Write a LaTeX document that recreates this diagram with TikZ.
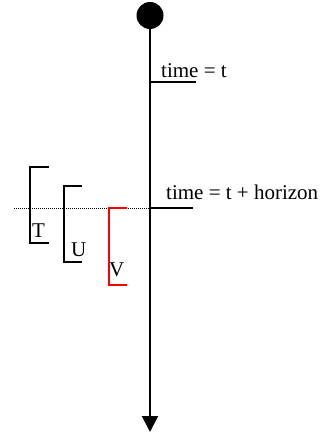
\documentclass[tikz,border=0pt]{standalone}
\usepackage{fontspec}
\setmainfont{Liberation Serif}
\usetikzlibrary{arrows.meta}
\begin{document}
\begin{tikzpicture}[x=1pt, y=-1pt,
		axis/.style={line width=2pt},
		tick/.style={line width=1.8pt},
		bracket/.style={line width=1.8pt},
		lbl/.style={font=\fontsize{21}{25}\selectfont, inner sep=0pt, anchor=base west}]
		\useasboundingbox (0,0) rectangle (324,433);
		
		% --- TIME AXIS ---
		\node[circle, fill=black, minimum size=27pt, inner sep=0pt] (start) at (150,15.5) {};
		\coordinate (end) at (150,432);
		\draw[axis, -{Triangle[length=16pt, width=16pt]}] (start.center) -- (end);
		
		% Current time marker
		\coordinate (now) at (150,82);
		\coordinate (nowtick) at (196,82);
		\draw[tick] (now) -- (nowtick);
		\node[lbl] (nowlbl) at (161,78) {time = t};
		
		% Horizon marker, dotted line out to the left
		\coordinate (hz) at (150,208);
		\coordinate (hztick) at (193,208);
		\coordinate (hzleft) at (14,208);
		\draw[tick] (hz) -- (hztick);
		\draw[dash pattern=on 1pt off 1pt, line width=1pt] (hzleft) -- (hz);
		\node[lbl] (hzlbl) at (166,199) {time = t + horizon};
		
		% --- WINDOWS ---
		\draw[bracket] (49,167) -- (30,167) -- (30,243) -- (49,243);
		\node[lbl] (tlbl) at (32,237) {T};
		\draw[bracket] (82,186) -- (64,186) -- (64,262) -- (82,262);
		\node[lbl] (ulbl) at (71,256) {U};
		\draw[bracket, red] (127,208) -- (109,208) -- (109,285) -- (127,285);
		\node[lbl] (vlbl) at (109,276) {V};
		
	\end{tikzpicture}
\end{document}
